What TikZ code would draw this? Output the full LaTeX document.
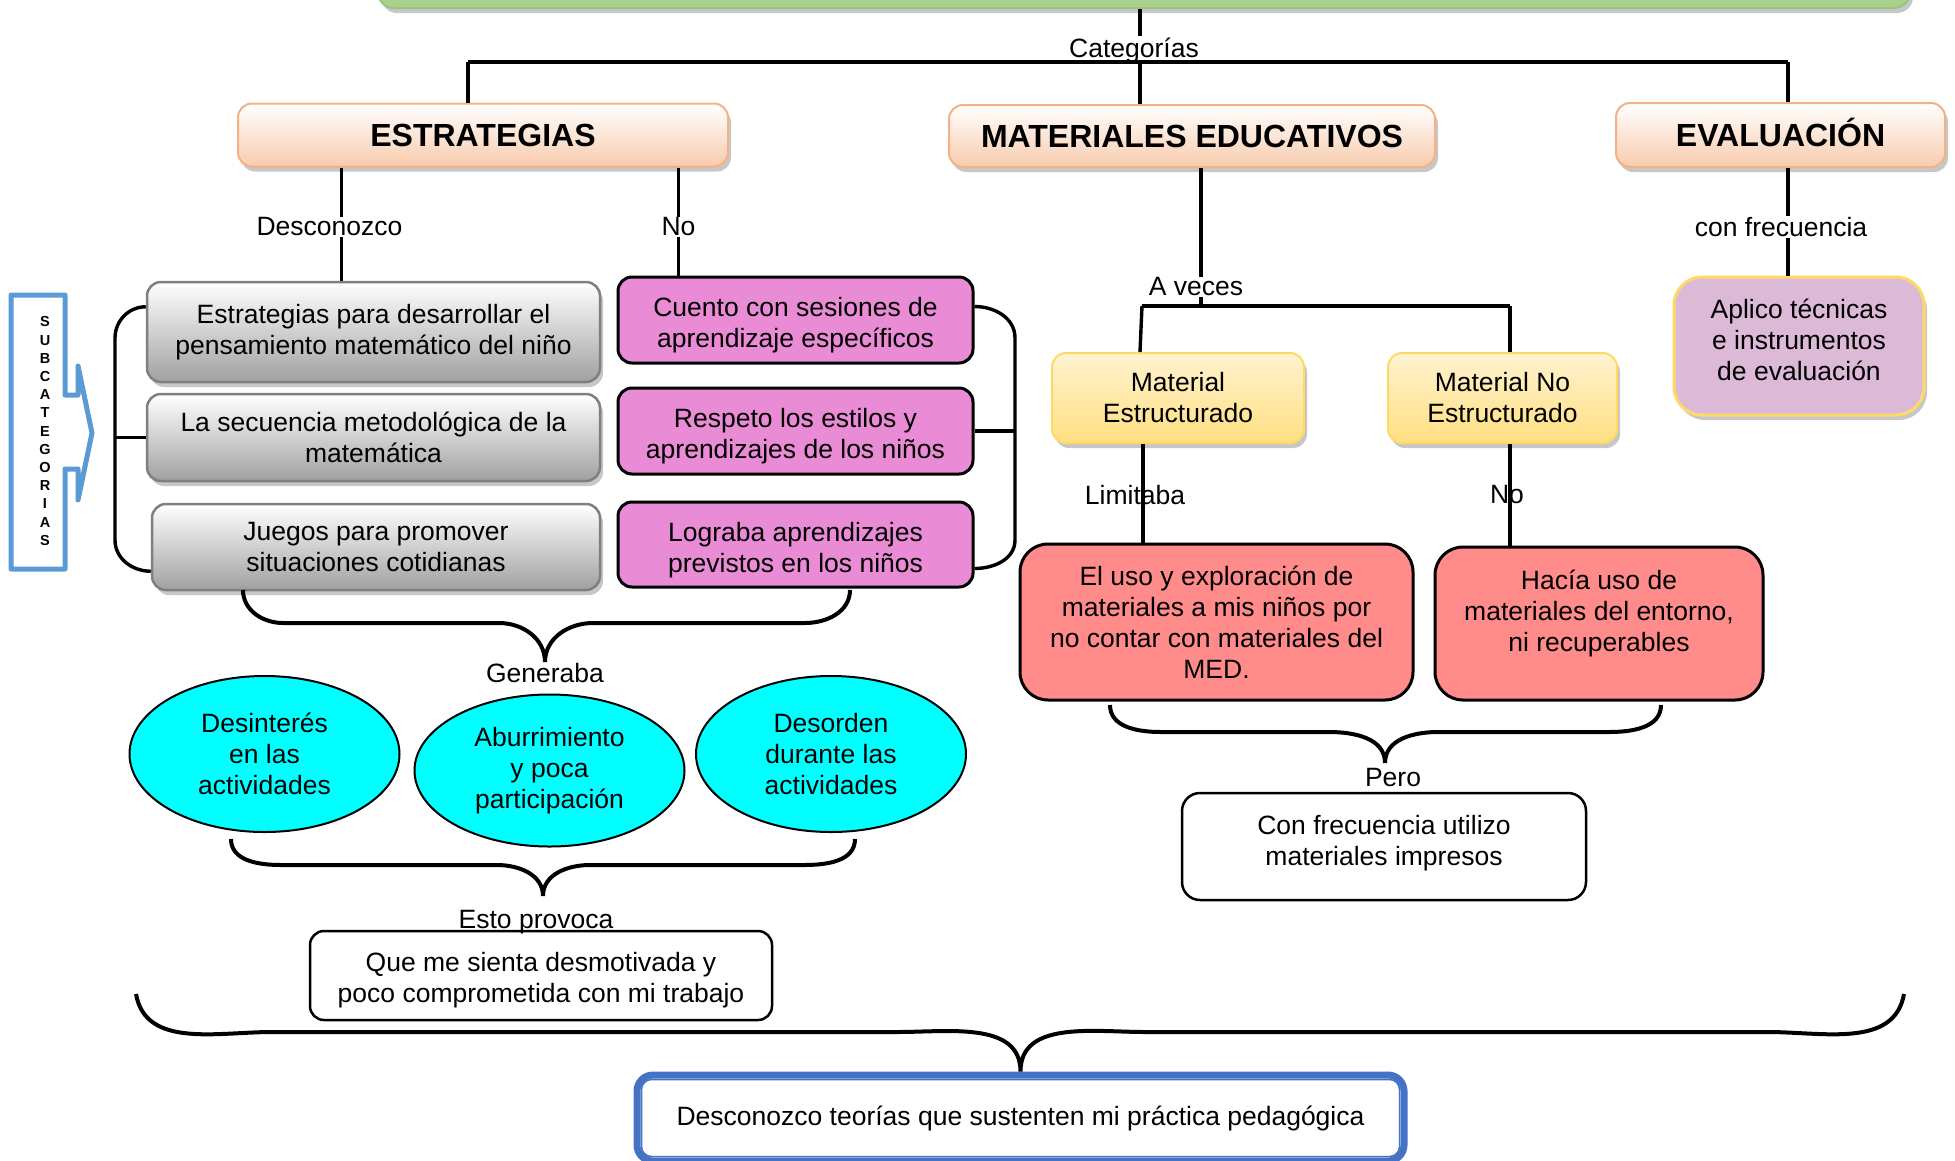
\documentclass[tikz,border=0pt]{standalone}
\usepackage{fontspec}
\setmainfont{Liberation Sans}
\usetikzlibrary{shapes.geometric,shadows,calc}
\definecolor{peach}{HTML}{F8CBAD}
\definecolor{peachb}{HTML}{F4B183}
\definecolor{grayb}{HTML}{7F7F7F}
\definecolor{graybot}{HTML}{A0A0A0}
\definecolor{pinkf}{HTML}{EA8BD6}
\definecolor{redf}{HTML}{FF8B8B}
\definecolor{purpf}{HTML}{DDB9D8}
\definecolor{gold}{HTML}{FFD966}
\definecolor{ylight}{HTML}{FFF3D1}
\definecolor{ydark}{HTML}{FFDF80}
\definecolor{blueS}{HTML}{5B9BD5}
\definecolor{blueF}{HTML}{4472C4}
\definecolor{greenT}{HTML}{A9D18E}
\definecolor{greenB}{HTML}{9CC27F}
\definecolor{cyanf}{HTML}{00FFFF}
\newcommand{\fs}{\fontsize{26.5}{31}\selectfont}
\newcommand{\fhd}{\fontsize{32}{38}\selectfont\bfseries}
\newcommand{\fsub}{\fontsize{14.5}{18.2}\selectfont\bfseries}
\begin{document}
\begin{tikzpicture}[x=1pt,y=-1pt,
  shadowed/.style={drop shadow={shadow xshift=3pt,shadow yshift=-5pt,fill=black,opacity=.22}},
  base/.style={rounded corners=14pt,align=center,inner sep=0pt,font=\fs,text=black},
  sz/.style 2 args={minimum width=#1pt,minimum height=#2pt},
  hdr/.style={base,draw=peachb,line width=2pt,top color=white,bottom color=peach,font=\fhd,shadowed},
  grayx/.style={base,draw=grayb,line width=2.5pt,top color=white,bottom color=graybot,shadowed},
  pinkx/.style={base,draw=black,line width=3pt,fill=pinkf},
  yel/.style={base,draw=gold,line width=2pt,top color=ylight,bottom color=ydark,shadowed},
  redx/.style={base,rounded corners=28pt,draw=black,line width=3pt,fill=redf},
  whitex/.style={base,draw=black,line width=2.5pt,fill=white,rounded corners=18pt},
  purx/.style={base,rounded corners=28pt,draw=gold,line width=3pt,fill=purpf,shadowed},
  ell/.style={ellipse,draw=black,line width=2pt,fill=cyanf,align=center,font=\fs,inner sep=0pt},
  lbl/.style={font=\fs,inner sep=1pt},
  ln/.style={line width=3.4pt},
  brace/.style={line width=4pt}
]
\useasboundingbox (0,0) rectangle (1955,1160);

% top (cut) box
\node[draw=greenB,line width=2pt,fill=greenT,rounded corners=16pt,sz={1532}{100},shadowed] (top) at (1144,-42) {};

% category headers
\node[hdr,sz={490}{63}] (est) at (483,135) {ESTRATEGIAS};
\node[hdr,sz={486}{62}] (mat) at (1192,136) {MATERIALES EDUCATIVOS};
\node[hdr,sz={329}{64}] (eva) at (1780.5,135) {EVALUACI\smash{Ó}N};

% gray boxes
\node[grayx,sz={453}{100}] (g1) at (373.5,332) {Estrategias para desarrollar el\\pensamiento matemático del niño};
\node[grayx,sz={453}{87}] (g2) at (373.5,437.5) {La secuencia metodológica de la\\matemática};
\node[grayx,sz={448}{86}] (g3) at (376,547) {Juegos para promover\\situaciones cotidianas};

% pink boxes
\node[pinkx,sz={355}{86}] (p1) at (795.5,320) {\mbox{}\\[-1pt]Cuento con sesiones de\\aprendizaje específicos};
\node[pinkx,sz={355}{86}] (p2) at (795.5,431) {\mbox{}\\[-1pt]Respeto los estilos y\\aprendizajes de los niños};
\node[pinkx,sz={355}{85}] (p3) at (795.5,544.5) {\mbox{}\\[-1pt]Lograba aprendizajes\\previstos en los niños};

% yellow boxes
\node[yel,sz={252}{90}] (y1) at (1178,398) {Material\\Estructurado};
\node[yel,sz={229}{90}] (y2) at (1502.5,398) {Material No\\Estructurado};

% red boxes
\node[redx,sz={393}{156}] (r1) at (1216.5,622) {El uso y exploración de\\materiales a mis niños por\\no contar con materiales del\\MED.};
\node[redx,sz={328}{153}] (r2) at (1599,623.5) {Hacía uso de\\materiales del entorno,\\ni recuperables\\[-5pt]\mbox{}};

% purple box
\node[purx,sz={250}{138}] (pur) at (1799,346) {Aplico técnicas\\e instrumentos\\de evaluación\\[-19pt]\mbox{}};

% white boxes
\node[whitex,sz={404}{107}] (cf) at (1384,846.5) {Con frecuencia utilizo\\materiales impresos\\[-19pt]\mbox{}};
\node[whitex,rounded corners=14pt,sz={462}{89}] (qm) at (541,975.5) {\mbox{}\\[-2pt]Que me sienta desmotivada y\\poco comprometida con mi trabajo};

% ellipses
\node[ell,minimum width=270pt,minimum height=156pt] (e1) at (264.5,754) {Desinterés\\en las\\actividades};
\node[ell,minimum width=270pt,minimum height=152pt] (e2) at (549.5,770.5) {Aburrimiento\\y poca\\participación};
\node[ell,minimum width=270pt,minimum height=156pt] (e3) at (831,754) {Desorden\\durante las\\actividades};

% final box
\node[base,draw=blueF,line width=7pt,fill=white,rounded corners=16pt,sz={767}{86}] (fin) at (1020.5,1118) {Desconozco teorías que sustenten mi práctica pedagógica};
\draw[blueF,line width=1.5pt,rounded corners=10pt] ([shift={(8,8)}]fin.north west) rectangle ([shift={(-8,-8)}]fin.south east);

% SUBCATEGORIAS callout
\draw[blueS,line width=5pt,line join=round] (11,295) -- (65,295) -- (65,395) -- (78,395) -- (78,366) -- (92,433) -- (78,500) -- (78,469) -- (65,469) -- (65,569) -- (11,569) -- cycle;
\node[font=\fsub,align=center,inner sep=0pt] (subc) at (45,431) {S\\U\\B\\C\\A\\T\\E\\G\\O\\R\\I\\A\\S};

% top connectors
\coordinate (hl) at (468,62);
\coordinate (hm) at (1140,62);
\coordinate (hr) at (1788,62);
\draw[ln] (top.south -| hm) -- (hm);
\node[lbl,fill=white] (cat) at (1134,50) {Categorías};
\draw[ln] (hl) -- (hr);
\draw[ln] (hl) -- (hl |- est.north);
\draw[ln] (hm) -- (hm |- mat.north);
\draw[ln] (hr) -- (hr |- eva.north);

% estrategias connectors
\coordinate (xd) at (341.5,0);
\coordinate (xn) at (678.5,0);
\draw[ln] (est.south -| xd) -- (g1.north -| xd);
\node[lbl,fill=white] (ldes) at (329.5,227) {Desconozco};
\draw[ln] (est.south -| xn) -- (p1.north -| xn);
\node[lbl,fill=white] (lno) at (678.5,227) {No};

% brackets
\coordinate (bl) at (115,0);
\draw[ln] ([yshift=-26pt]g1.north west) to[out=180,in=90] (115,338) -- (115,540) to[out=-90,in=180] ([yshift=20pt]g3.south west);
\draw[ln] (g2.west -| bl) -- (g2.west);
\coordinate (br) at (1015,0);
\draw[ln] ([yshift=-31pt]p1.north east) to[out=0,in=90] (1015,338) -- (1015,540) to[out=-90,in=0] ([yshift=20pt]p3.south east);
\draw[ln] (p2.east) -- (p2.east -| br);

% materiales connectors
\coordinate (xm) at (1201,0);
\coordinate (av) at (1201,306);
\coordinate (al) at (1142,306);
\coordinate (ar) at (1510,306);
\draw[ln] (mat.south -| xm) -- (av);
\node[lbl,fill=white] (lav) at (1196,287) {A veces};
\draw[ln] (al) -- (ar);
\draw[ln] (al) -- ([xshift=-2pt]y1.north -| al);
\draw[ln] (ar) -- (y2.north -| ar);
\coordinate (xl) at (1143,0);
\draw[ln] (y1.south -| xl) -- (r1.north -| xl);
\node[lbl] (llim) at (1135,495) {Limitaba};
\draw[ln] (y2.south -| ar) -- (r2.north -| ar);
\node[lbl] (lno2) at (1507,495) {No};

% evaluacion connector
\draw[ln] (eva.south -| hr) -- (pur.north -| hr);
\node[lbl,fill=white] (lcf) at (1781,227) {con frecuencia};

% brace 1 (Generaba)
\node[lbl] (gen) at (545,673) {Generaba};
\draw[brace] (243,590) to[out=-90,in=180] (283,623) -- (499,623) to[out=0,in=90] (gen.north) to[out=90,in=180] (593,623) -- (805,623) to[out=0,in=-90] (850,590);

% brace 2 (Esto provoca)
\node[lbl] (esto) at (536,922) {Esto provoca};
\coordinate (t2) at (543,896);
\draw[brace] (231,839) to[out=-90,in=180] (281,865) -- (497,865) to[out=0,in=90] (t2) to[out=90,in=180] (590,865) -- (804,865) to[out=0,in=-90] (855,839);

% brace 3 (Pero)
\node[lbl] (pero) at (1393,778) {Pero};
\coordinate (t3) at (1385,763);
\draw[brace] (1110,705) to[out=-90,in=180] (1161,732) -- (1329,732) to[out=0,in=90] (t3) to[out=90,in=180] (1438,732) -- (1609,732) to[out=0,in=-90] (1661,705);

% big brace
\draw[brace] (136,994) to[out=-80,in=180] (272,1032) -- (898,1032) to[out=0,in=90] (fin.north) to[out=90,in=180] (1145,1032) -- (1768,1032) to[out=0,in=-100] (1904,994);
\end{tikzpicture}
\end{document}
